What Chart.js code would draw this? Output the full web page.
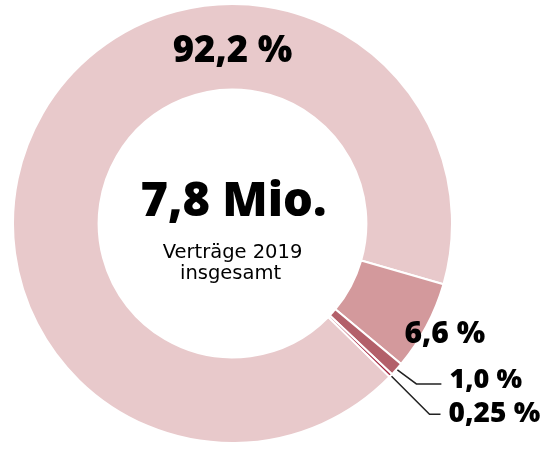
<!DOCTYPE html>
<html>
<head>
<meta charset="utf-8">
<script src="https://cdn.jsdelivr.net/npm/chart.js@4/dist/chart.umd.min.js"></script>
<style>
  html, body { margin: 0; padding: 0; background: #fff; }
  canvas { display: block; }
</style>
</head>
<body>
<canvas id="donut" width="558" height="472"></canvas>
<script>
// Vertragsanteile 2019
const shares = [92.2, 6.6, 1.0, 0.25];
const shareLabels = ['92,2 %', '6,6 %', '1,0 %', '0,25 %'];
const sliceColors = ['#e8c9cb', '#d3999c', '#b3606a', '#a3263f'];
const totalLabel = '7,8 Mio.';
const subLabel = ['Verträge 2019', 'insgesamt'];

const boldFont = '"Open Sans", sans-serif';
const textFont = '"DejaVu Sans", sans-serif';

// draws the center total, the percentages and the leader lines
const labelPlugin = {
  id: 'donutLabels',
  afterDraw(chart) {
    const ctx = chart.ctx;
    const arcs = chart.getDatasetMeta(0).data;
    const cx = arcs[0].x, cy = arcs[0].y;
    const outer = arcs[0].outerRadius;

    ctx.save();
    ctx.fillStyle = '#000';
    ctx.textAlign = 'center';
    ctx.textBaseline = 'alphabetic';

    ctx.font = '800 47px ' + boldFont;
    ctx.fillText(totalLabel, cx + 1, cy - 8);
    ctx.font = '19.5px ' + textFont;
    ctx.fillText(subLabel[0], cx, cy + 34);
    ctx.fillText(subLabel[1], cx - 2, cy + 55);

    // big slice: label on the ring at the top
    ctx.font = '800 36.5px ' + boldFont;
    ctx.fillText(shareLabels[0], cx, cy - outer + 58);

    // 6,6 % inside the ring, near the slice
    ctx.textAlign = 'left';
    ctx.font = '800 30px ' + boldFont;
    ctx.fillText(shareLabels[1], cx + 172, cy + 119);

    // small slices: leader lines from the outer edge
    const leaders = [
      { i: 2, dx: 19, dy: 14, len: 25, size: 27, up: 4 },
      { i: 3, dx: 38, dy: 38, len: 11, size: 28, up: 8 }
    ];
    ctx.strokeStyle = '#222';
    ctx.lineWidth = 1.5;
    leaders.forEach(l => {
      const a = arcs[l.i];
      const mid = (a.startAngle + a.endAngle) / 2;
      const r = outer + 1;
      const x0 = cx + Math.cos(mid) * r;
      const y0 = cy + Math.sin(mid) * r;
      const x1 = x0 + l.dx, y1 = y0 + l.dy;
      const x2 = x1 + l.len;
      ctx.beginPath();
      ctx.moveTo(x0, y0);
      ctx.lineTo(x1, y1);
      ctx.lineTo(x2, y1);
      ctx.stroke();
      ctx.font = '800 ' + l.size + 'px ' + boldFont;
      ctx.fillText(shareLabels[l.i], x2 + 8, y1 + l.up);
    });
    ctx.restore();
  }
};

new Chart(document.getElementById('donut'), {
  type: 'doughnut',
  data: {
    labels: shareLabels,
    datasets: [{
      data: shares,
      backgroundColor: sliceColors,
      borderColor: '#fff',
      borderWidth: 2,
      hoverOffset: 0
    }]
  },
  options: {
    responsive: false,
    animation: false,
    cutout: '61%',
    rotation: 134.3,
    layout: { padding: { left: 12, right: 105, top: 3, bottom: 28 } },
    plugins: {
      legend: { display: false },
      tooltip: { enabled: false }
    }
  },
  plugins: [labelPlugin]
});
</script>
</body>
</html>
